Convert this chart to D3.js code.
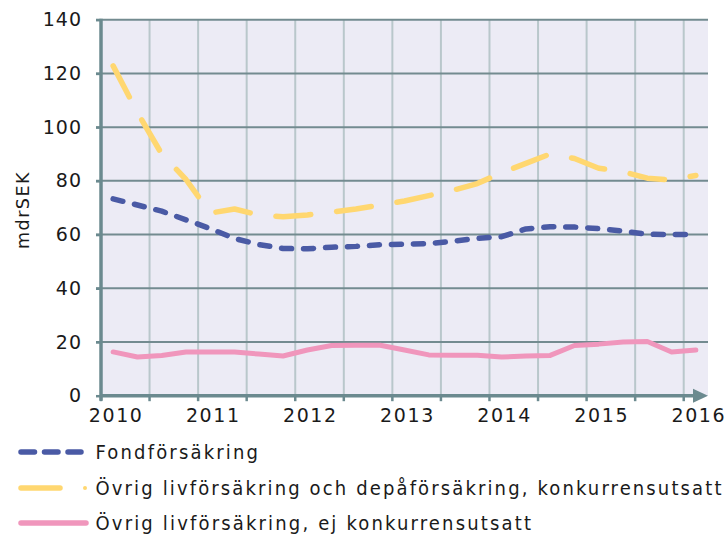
<!DOCTYPE html>
<html>
<head>
<meta charset="utf-8">
<script src="https://cdn.jsdelivr.net/npm/d3@7"></script>
<style>
  html, body { margin: 0; padding: 0; background: #ffffff; }
  svg { display: block; }
  text { font-family: "DejaVu Sans", Verdana, sans-serif; fill: #1a1a1a; }
</style>
</head>
<body>
<svg id="chart" width="727" height="536"></svg>
<script>
// ---- data ----
const quarters = [
  "2010K1","2010K2","2010K3","2010K4",
  "2011K1","2011K2","2011K3","2011K4",
  "2012K1","2012K2","2012K3","2012K4",
  "2013K1","2013K2","2013K3","2013K4",
  "2014K1","2014K2","2014K3","2014K4",
  "2015K1","2015K2","2015K3","2015K4",
  "2016K1"
];
const yearLabels = ["2010","2011","2012","2013","2014","2015","2016"];
const yTicks = [0, 20, 40, 60, 80, 100, 120, 140];

const fondforsakring = [
  73.3, 71.0, 68.7, 65.5, 62.2, 58.5, 56.3, 54.8, 54.7, 55.3, 55.6, 56.2,
  56.4, 56.6, 57.5, 58.6, 59.2, 62.1, 62.9, 62.8, 62.2, 61.3, 60.1, 60.0, 60.0
];
const ovrigKonkurrens = [
  122.8, 105.5, 90.0, 80.5, 68.0, 69.5, 67.3, 66.6, 67.3, 68.4, 69.5, 71.0,
  72.5, 74.5, 76.5, 79.0, 83.0, 86.5, 90.0, 88.3, 84.7, 83.4, 81.0, 80.3, 82.0
];
const ovrigEjKonkurrens = [
  16.3, 14.4, 15.0, 16.3, 16.3, 16.3, 15.5, 14.8, 17.0, 18.7, 18.8, 18.8,
  17.0, 15.2, 15.1, 15.1, 14.4, 14.8, 15.0, 18.7, 19.2, 20.0, 20.2, 16.3, 17.0
];

const seriesNames = [
  "Fondförsäkring",
  "Övrig livförsäkring och depåförsäkring, konkurrensutsatt",
  "Övrig livförsäkring, ej konkurrensutsatt"
];

(function () {
// ---- styles ----
const colBlue = "#4a5aa5";
const colYellow = "#ffd770";
const colPink = "#f096bc";
const colAxis = "#6b8a8f";
const colGridH = "#738b90";
const colGridV = "#b9c7cb";
const colBg = "#ecebf5";

const svg = d3.select("#chart");
const pLeft = 101, pRight = 708, pTop = 19.7, pBottom = 395.7;

const x = d3.scaleBand().domain(quarters).range([pLeft, pRight]);
const xc = q => x(q) + x.bandwidth() / 2;
const y = d3.scaleLinear().domain([0, 140]).range([pBottom, pTop]);

// plot background
svg.append("rect")
  .attr("x", pLeft).attr("y", pTop)
  .attr("width", pRight - pLeft).attr("height", pBottom - pTop)
  .attr("fill", colBg);

// vertical gridlines (every half year)
const vGrid = quarters.filter((q, i) => i % 2 === 0 && i > 0);
svg.append("g").selectAll("line").data(vGrid).join("line")
  .attr("x1", d => x(d)).attr("x2", d => x(d))
  .attr("y1", pTop).attr("y2", pBottom)
  .attr("stroke", colGridV).attr("stroke-width", 2);

// horizontal gridlines
svg.append("g").selectAll("line").data(yTicks.filter(v => v > 0)).join("line")
  .attr("x1", pLeft - 5).attr("x2", pRight)
  .attr("y1", d => y(d)).attr("y2", d => y(d))
  .attr("stroke", colGridH).attr("stroke-width", 2);

// y axis
const yAxis = d3.axisLeft(y).tickValues(yTicks).tickSize(5).tickPadding(14)
  .tickFormat(d3.format("d"));
const gy = svg.append("g").attr("transform", `translate(${pLeft},0)`).call(yAxis);
gy.select(".domain").remove();
gy.selectAll(".tick line").attr("stroke", colAxis).attr("stroke-width", 2.5);
gy.selectAll(".tick text")
  .style("font-size", "19px").style("letter-spacing", "1px")
  .style("font-family", "'DejaVu Sans', sans-serif")
  .attr("fill", "#1a1a1a");
svg.append("line")
  .attr("x1", pLeft).attr("x2", pLeft).attr("y1", pTop - 1).attr("y2", pBottom + 5)
  .attr("stroke", colAxis).attr("stroke-width", 3.5);

// x axis ticks
const xTickQ = quarters.filter((q, i) => i % 2 === 0);
svg.append("g").selectAll("line").data(xTickQ).join("line")
  .attr("x1", d => x(d)).attr("x2", d => x(d))
  .attr("y1", pBottom).attr("y2", pBottom + 5.5)
  .attr("stroke", colAxis).attr("stroke-width", 2.5);
// x axis line with arrow
svg.append("line")
  .attr("x1", pLeft).attr("x2", pRight - 12)
  .attr("y1", pBottom).attr("y2", pBottom)
  .attr("stroke", colAxis).attr("stroke-width", 3.5);
svg.append("path")
  .attr("d", `M${pRight - 15},${pBottom - 7}L${pRight},${pBottom}L${pRight - 15},${pBottom + 7}Z`)
  .attr("fill", colAxis);

// x labels at Q1 of each year
const yearQ = yearLabels.map(yr => yr + "K1");
svg.append("g").selectAll("text").data(yearLabels).join("text")
  .attr("x", (d, i) => xc(yearQ[i]) + 3)
  .attr("y", pBottom + 26)
  .attr("text-anchor", "middle")
  .style("font-size", "19px").style("letter-spacing", "1.6px")
  .text(d => d);

// y axis title
svg.append("text")
  .attr("transform", "translate(29,210) rotate(-90)")
  .attr("text-anchor", "middle")
  .style("font-size", "17.5px").style("letter-spacing", "1.5px")
  .text("mdrSEK");

// lines
const line = d3.line().x((d, i) => xc(quarters[i])).y(d => y(d));

svg.append("path").datum(ovrigEjKonkurrens)
  .attr("d", line).attr("fill", "none")
  .attr("stroke", colPink).attr("stroke-width", 5)
  .attr("stroke-linejoin", "round").attr("stroke-linecap", "round");

svg.append("path").datum(ovrigKonkurrens)
  .attr("d", line).attr("fill", "none")
  .attr("stroke", colYellow).attr("stroke-width", 5.5)
  .attr("stroke-dasharray", "35,26")
  .attr("stroke-linejoin", "round").attr("stroke-linecap", "round");

svg.append("path").datum(fondforsakring)
  .attr("d", line).attr("fill", "none")
  .attr("stroke", colBlue).attr("stroke-width", 5.5)
  .attr("stroke-dasharray", "10,12")
  .attr("stroke-linejoin", "round").attr("stroke-linecap", "round");

// legend
const lg = svg.append("g");
const rows = [452, 488, 523];
const textW = [162.5, 626, 435.5];
lg.append("line").attr("x1", 21).attr("x2", 81).attr("y1", rows[0]).attr("y2", rows[0])
  .attr("stroke", colBlue).attr("stroke-width", 5.5)
  .attr("stroke-dasharray", "13.5,10").attr("stroke-linecap", "round");
lg.append("line").attr("x1", 21).attr("x2", 60).attr("y1", rows[1]).attr("y2", rows[1])
  .attr("stroke", colYellow).attr("stroke-width", 5.5).attr("stroke-linecap", "round");
lg.append("circle").attr("cx", 85).attr("cy", rows[1]).attr("r", 2)
  .attr("fill", colYellow);
lg.append("line").attr("x1", 21).attr("x2", 86).attr("y1", rows[2]).attr("y2", rows[2])
  .attr("stroke", colPink).attr("stroke-width", 5.5).attr("stroke-linecap", "round");

lg.selectAll("text").data(seriesNames).join("text")
  .attr("x", 95.5).attr("y", (d, i) => rows[i] + 7)
  .attr("textLength", (d, i) => textW[i]).attr("lengthAdjust", "spacing")
  .style("font-family", "'DejaVu Sans Condensed', 'DejaVu Sans', sans-serif")
  .style("font-size", "20px")
  .text(d => d);
})();
</script>
</body>
</html>
